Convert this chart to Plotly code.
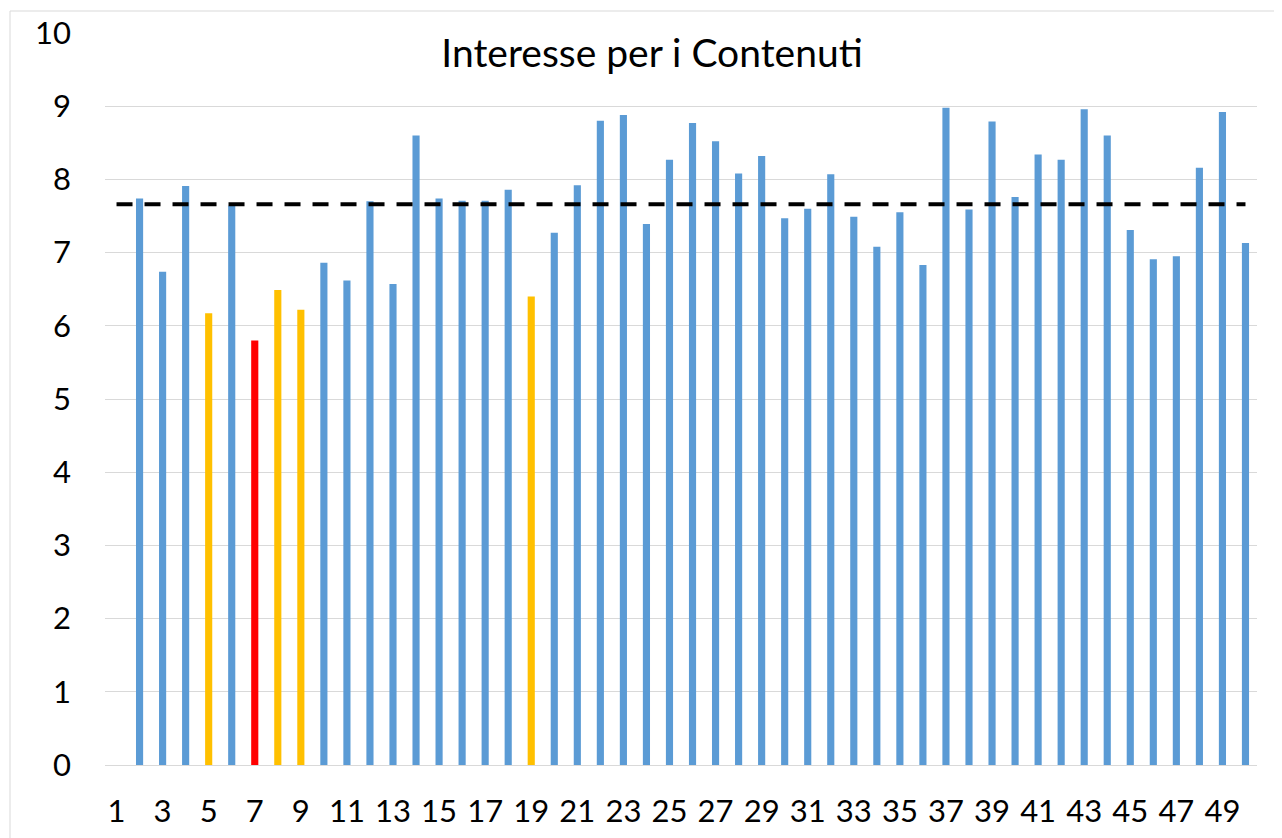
# Bar chart "Interesse per i Contenuti" with a dashed average line

import plotly.graph_objects as go

# data (item 1 has no bar)
items = list(range(1, 51))
scores = [None,
          7.74, 6.74, 7.91, 6.17, 7.64, 5.80, 6.49, 6.22, 6.86,
          6.62, 7.70, 6.57, 8.60, 7.74, 7.71, 7.71, 7.86, 6.40,
          7.27, 7.92, 8.80, 8.88, 7.39, 8.27, 8.77, 8.52, 8.08,
          8.32, 7.47, 7.60, 8.07, 7.49, 7.08, 7.55, 6.83, 8.98,
          7.59, 8.79, 7.76, 8.34, 8.27, 8.96, 8.60, 7.31, 6.91,
          6.95, 8.16, 8.92, 7.13]
average = 7.66
red_items = [7]
yellow_items = [5, 8, 9, 19]
x_ticks = list(range(1, 50, 2))
y_ticks = list(range(0, 11))

chart_title = "Interesse per i Contenuti"

# colour of each bar
colors = []
for it in items:
  if it in red_items:
    colors.append('#FF0000')
  elif it in yellow_items:
    colors.append('#FFC000')
  else:
    colors.append('#5B9BD5')

fig = go.Figure()

fig.add_trace(go.Bar(
  x=items,
  y=scores,
  width=0.31,
  marker=dict(color=colors, line=dict(width=0)),
  showlegend=False
))

fig.add_trace(go.Scatter(
  x=[items[0], items[-1]],
  y=[average, average],
  mode='lines',
  line=dict(color='#000000', width=4, dash='16px,12px'),
  showlegend=False
))

# the page body has an 8px margin, so the figure sits at (8, 8)
OFF = 8
FW, FH = 1282 - OFF, 838 - OFF
# plot area in window pixels: x 105..1257, y 33..765
L, R, T, B = 105 - OFF, 25, 33 - OFF, 838 - 765
W = FW - L - R
H = FH - T - B

fig.update_layout(
  width=FW, height=FH,
  margin=dict(l=L, r=R, t=T, b=B),
  paper_bgcolor='white',
  plot_bgcolor='white',
  font=dict(family='Lato, Open Sans, sans-serif', color='#000000', size=31),
  title=dict(text=chart_title, x=(652 - OFF) / FW, xanchor='center', xref='container',
             y=1 - (53 - OFF) / FH, yanchor='middle', yref='container',
             font=dict(size=39, color='#000000')),
  shapes=[dict(type='rect', xref='paper', yref='paper',
               x0=(10 - 105) / W, x1=(1300 - 105) / W,
               y0=(765 - 860) / H, y1=(765 - 11) / H,
               line=dict(color='#D9D9D9', width=1), layer='below')]
)

fig.update_xaxes(
  range=[0.5, 50.5],
  tickvals=x_ticks,
  ticktext=[str(v) for v in x_ticks],
  tickangle=0,
  showgrid=False,
  showline=True, linecolor='#D9D9D9', linewidth=1,
  ticks='', ticklabelstandoff=19,
  zeroline=False,
  automargin=False
)

fig.update_yaxes(
  range=[0, 10],
  tickvals=y_ticks,
  showgrid=True, gridcolor='#D9D9D9', gridwidth=1,
  showline=False,
  ticks='', ticklabelstandoff=33,
  zeroline=False,
  automargin=False
)

fig.write_html("out.html")
